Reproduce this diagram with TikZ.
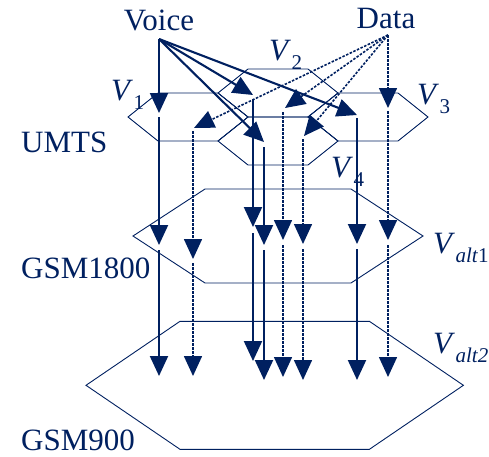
\documentclass[tikz,border=0pt]{standalone}
\usepackage{fontspec}
\setmainfont{Liberation Serif}
\usetikzlibrary{arrows.meta}
\definecolor{navy}{RGB}{0,32,96}
\newcommand\hexa[5]{% cx, cy, half width, half top edge, half height
  \draw[hexline] ({#1-#3},#2) -- ({#1-#4},{#2-#5}) -- ({#1+#4},{#2-#5})
    -- ({#1+#3},#2) -- ({#1+#4},{#2+#5}) -- ({#1-#4},{#2+#5}) -- cycle;}
\newcommand\Vlab[1]{\textit{V}\kern0.5pt\raisebox{-0.3em}{\fontsize{21}{21}\selectfont #1}}
\tikzset{
  hexline/.style={draw=navy, line width=0.9pt, line join=miter},
  lab/.style={text=navy, font=\fontsize{31}{31}\selectfont, inner sep=0pt},
  tip/.style={-{Triangle[length=20pt,width=18pt]}},
  voicearr/.style={draw=navy, line width=2.1pt, tip},
  dataarr/.style={draw=navy, line width=1.6pt, dash pattern=on 2.5pt off 1.5pt, tip},
}
\begin{document}
\begin{tikzpicture}[x=1pt,y=-1pt]
\useasboundingbox (0,0) rectangle (489,456);
% hexagons
\hexa{188}{117}{60}{30}{24}
\hexa{278}{93}{60}{30}{24}
\hexa{368}{117}{60}{30}{24}
\hexa{278}{141}{60}{30}{24}
\hexa{278}{236}{145}{73}{47}
\hexa{274.7}{385.3}{188.7}{94.7}{64}
% labels
\node[lab, anchor=base] (voice) at (159,30) {Voice};
\node[lab, anchor=base] (data) at (386,28) {Data};
\node[lab, anchor=base west] (umts) at (21,152) {UMTS};
\node[lab, anchor=base west] (gsm18) at (21,278) {GSM1800};
\node[lab, anchor=base west] (gsm9) at (21,450) {GSM900};
\node[lab, anchor=base west] (v1) at (111,100) {\Vlab{1}};
\node[lab, anchor=base west] (v2) at (269,60) {\Vlab{2}};
\node[lab, anchor=base west] (v3) at (417,104) {\Vlab{3}};
\node[lab, anchor=base west] (v4) at (331,177) {\Vlab{4}};
\node[lab, anchor=base west] (va1) at (433,253) {\Vlab{\textit{alt}1}};
\node[lab, anchor=base west] (va2) at (433,353) {\Vlab{\textit{alt2}}};
% sources
\coordinate (vs) at (159,39);
\coordinate (ds) at (388,35);
% voice column A (x=159)
\coordinate (a1) at (159,113); \coordinate (a2s) at (159,117);
\coordinate (a2) at (159,245); \coordinate (a3s) at (159,250);
\coordinate (a3) at (159,376);
% voice column B (x=253)
\coordinate (b1) at (253,95); \coordinate (b2s) at (253,100);
\coordinate (b2) at (253,227); \coordinate (b3s) at (253,233);
\coordinate (b3) at (253,361);
% voice column C (x=264)
\coordinate (c1) at (264,142); \coordinate (c2s) at (264,147);
\coordinate (c2) at (264,245); \coordinate (c3s) at (264,250);
\coordinate (c3) at (264,380);
% voice column D (x=357)
\coordinate (d1) at (357,115); \coordinate (d2s) at (357,118);
\coordinate (d2) at (357,244); \coordinate (d3s) at (357,249);
\coordinate (d3) at (357,380);
% data column E (x=193)
\coordinate (e1) at (194,128); \coordinate (e2s) at (193,131);
\coordinate (e2) at (193,259); \coordinate (e3s) at (193,263);
\coordinate (e3) at (193,376);
% data column F (x=283)
\coordinate (f1) at (285,108); \coordinate (f2s) at (283,112);
\coordinate (f2) at (283,240); \coordinate (f3s) at (283,245);
\coordinate (f3) at (283,377);
% data column G (x=303)
\coordinate (g1) at (304,136); \coordinate (g2s) at (303,139);
\coordinate (g2) at (303,244); \coordinate (g3s) at (303,249);
\coordinate (g3) at (303,380);
% data column H (x=388)
\coordinate (h1) at (388,108); \coordinate (h2s) at (388,111);
\coordinate (h2) at (388,240); \coordinate (h3s) at (388,245);
\coordinate (h3) at (388,377);
% voice arrows
\foreach \c in {a,b,c,d}{
  \draw[voicearr] (vs) -- (\c1);
  \draw[voicearr] (\c2s) -- (\c2);
  \draw[voicearr] (\c3s) -- (\c3);
}
% data arrows
\foreach \c in {e,f,g,h}{
  \draw[dataarr] (ds) -- (\c1);
  \draw[dataarr] (\c2s) -- (\c2);
  \draw[dataarr] (\c3s) -- (\c3);
}
\end{tikzpicture}
\end{document}
